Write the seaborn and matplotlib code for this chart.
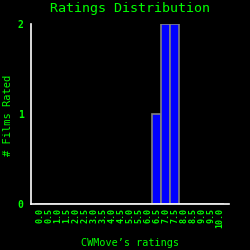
import matplotlib
matplotlib.use("Agg")
import matplotlib.pyplot as plt
import seaborn as sns
import pandas as pd

ratings = ["0.0", "0.5", "1.0", "1.5", "2.0", "2.5", "3.0", "3.5", "4.0", "4.5",
           "5.0", "5.5", "6.0", "6.5", "7.0", "7.5", "8.0", "8.5", "9.0", "9.5", "10.0"]
counts = [0, 0, 0, 0, 0, 0, 0, 0, 0, 0, 0, 0, 0, 1, 2, 2, 0, 0, 0, 0, 0]
y_ticks = [0, 1, 2]

green = "#00ff00"
df = pd.DataFrame({"rating": ratings, "count": counts})

sns.set_style("dark")
plt.rcParams["font.family"] = ["DejaVu Sans Mono"]

fig = plt.figure(figsize=(2.5, 2.5), dpi=100, facecolor="black")
ax = fig.add_axes([0.122, 0.184, 0.794, 0.72])
ax.set_facecolor("black")

sns.barplot(data=df, x="rating", y="count", order=ratings, color="#0000ff",
            saturation=1, width=1.0, edgecolor="#808080", linewidth=1.2, ax=ax)

ax.set_xlim(-1, len(ratings))
ax.set_ylim(0, 2)
ax.set_yticks(y_ticks)
ax.grid(False)
for s in ["top", "right"]:
    ax.spines[s].set_visible(False)
for s in ["left", "bottom"]:
    ax.spines[s].set_color("white")
    ax.spines[s].set_linewidth(1.2)

ax.tick_params(axis="x", direction="in", length=4, width=1.2, color="white",
               labelcolor=green, labelsize=6, labelrotation=90, pad=3)
ax.tick_params(axis="y", direction="in", length=4, width=1.2, color="white",
               labelcolor=green, labelsize=7, pad=5)
for lbl in ax.get_yticklabels() + ax.get_xticklabels():
    lbl.set_fontweight("bold")

ax.set_title("Ratings Distribution", color=green, fontsize=9.6, pad=9)
ax.set_xlabel("CWMove\u2019s ratings", color=green, fontsize=7.3)
ax.xaxis.set_label_coords(0.5, -0.19)
ax.set_ylabel("# Films Rated", color=green, fontsize=7.5)
ax.yaxis.set_label_coords(-0.088, 0.494)

fig.savefig("out.png", dpi=100, facecolor="black")
